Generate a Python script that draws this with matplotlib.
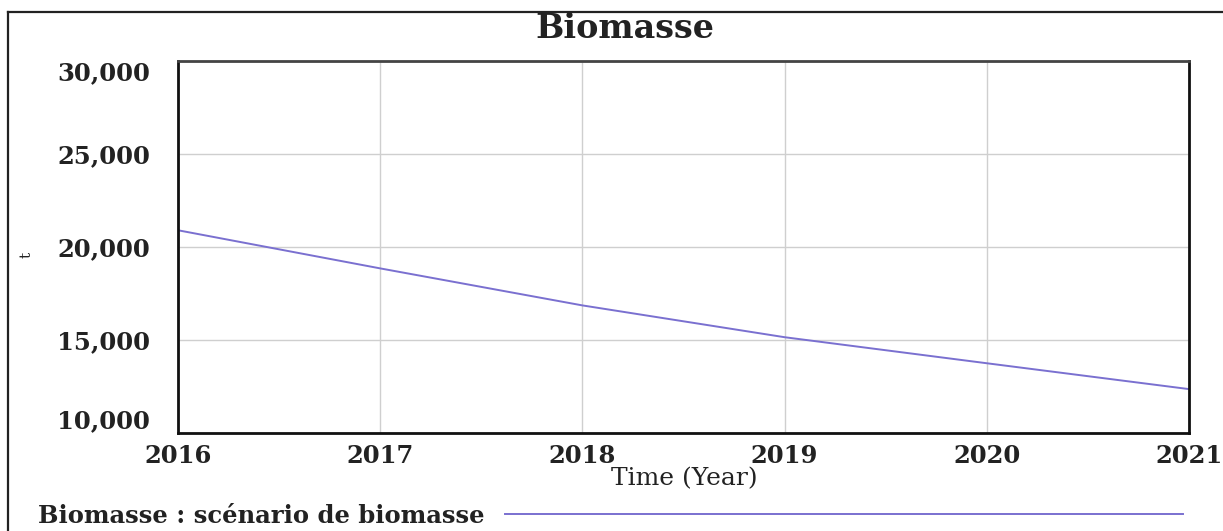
import matplotlib
matplotlib.use("Agg")
import matplotlib.pyplot as plt
from matplotlib.lines import Line2D
from matplotlib.ticker import FuncFormatter

years = [2016, 2017, 2018, 2019, 2020, 2021]
biomasse = [20900, 18850, 16860, 15150, 13750, 12360]
y_ticks = [10000, 15000, 20000, 25000, 30000]
x_ticks = [2016, 2017, 2018, 2019, 2020, 2021]
title = "Biomasse"
x_label = "Time (Year)"
y_label = "t"
series_label = "Biomasse : scénario de biomasse"

W, H = 1223, 531
fig = plt.figure(figsize=(W / 100, H / 100), dpi=100)
fig.patch.set_facecolor("white")

ax = fig.add_axes([178 / W, 1 - 433 / H, (1189 - 178) / W, (433 - 61) / H])
line_color = "#7a70d0"
ax.plot(years, biomasse, color=line_color, lw=1.4, label=series_label)
ax.set_xlim(2016, 2021)
ax.set_ylim(10000, 30000)
ax.set_xticks(x_ticks)
ax.set_yticks(y_ticks)
ax.yaxis.set_major_formatter(FuncFormatter(lambda v, p: f"{int(v):,}"))
ax.grid(True, color="#cfcfcf", lw=1.0)
ax.set_axisbelow(True)
for s in ax.spines.values():
    s.set_color("#111111")
    s.set_linewidth(2.0)
ax.spines["top"].set_color("#444444")
ax.tick_params(length=0, labelsize=17.5, colors="#222222")
ax.tick_params(axis="y", pad=20)
ax.tick_params(axis="x", pad=8)
for lab in ax.get_xticklabels() + ax.get_yticklabels():
    lab.set_family("DejaVu Serif")
    lab.set_fontweight("bold")
ylabs = ax.get_yticklabels()
ylabs[0].set_va("bottom")
ylabs[-1].set_va("top")

fig.text(625 / W, 1 - 28 / H, title, ha="center", va="center",
         family="DejaVu Serif", fontweight="bold", fontsize=24, color="#222222")
fig.text(684 / W, 1 - 479 / H, x_label, ha="center", va="center",
         family="DejaVu Serif", fontsize=18, color="#222222")
fig.text(27 / W, 1 - 255 / H, y_label, ha="center", va="center", rotation=90,
         family="DejaVu Serif", fontsize=11, color="#222222")

# outer frame
fig.add_artist(Line2D([8 / W, 1.0], [1 - 12 / H, 1 - 12 / H], transform=fig.transFigure,
                      color="#222222", lw=1.6))
fig.add_artist(Line2D([8 / W, 8 / W], [1 - 12 / H, 0.0], transform=fig.transFigure,
                      color="#222222", lw=1.6))

leg_size = 17.5
leg = fig.legend(loc="center left", bbox_to_anchor=(38 / W, 1 - 516 / H),
                 frameon=False, markerfirst=False, handlelength=678 / (leg_size * 100 / 72),
                 handletextpad=0.85, borderpad=0, borderaxespad=0,
                 prop={"family": "DejaVu Serif", "weight": "bold", "size": leg_size})
for t in leg.get_texts():
    t.set_color("#222222")

fig.savefig("out.png", dpi=100, facecolor="white")
